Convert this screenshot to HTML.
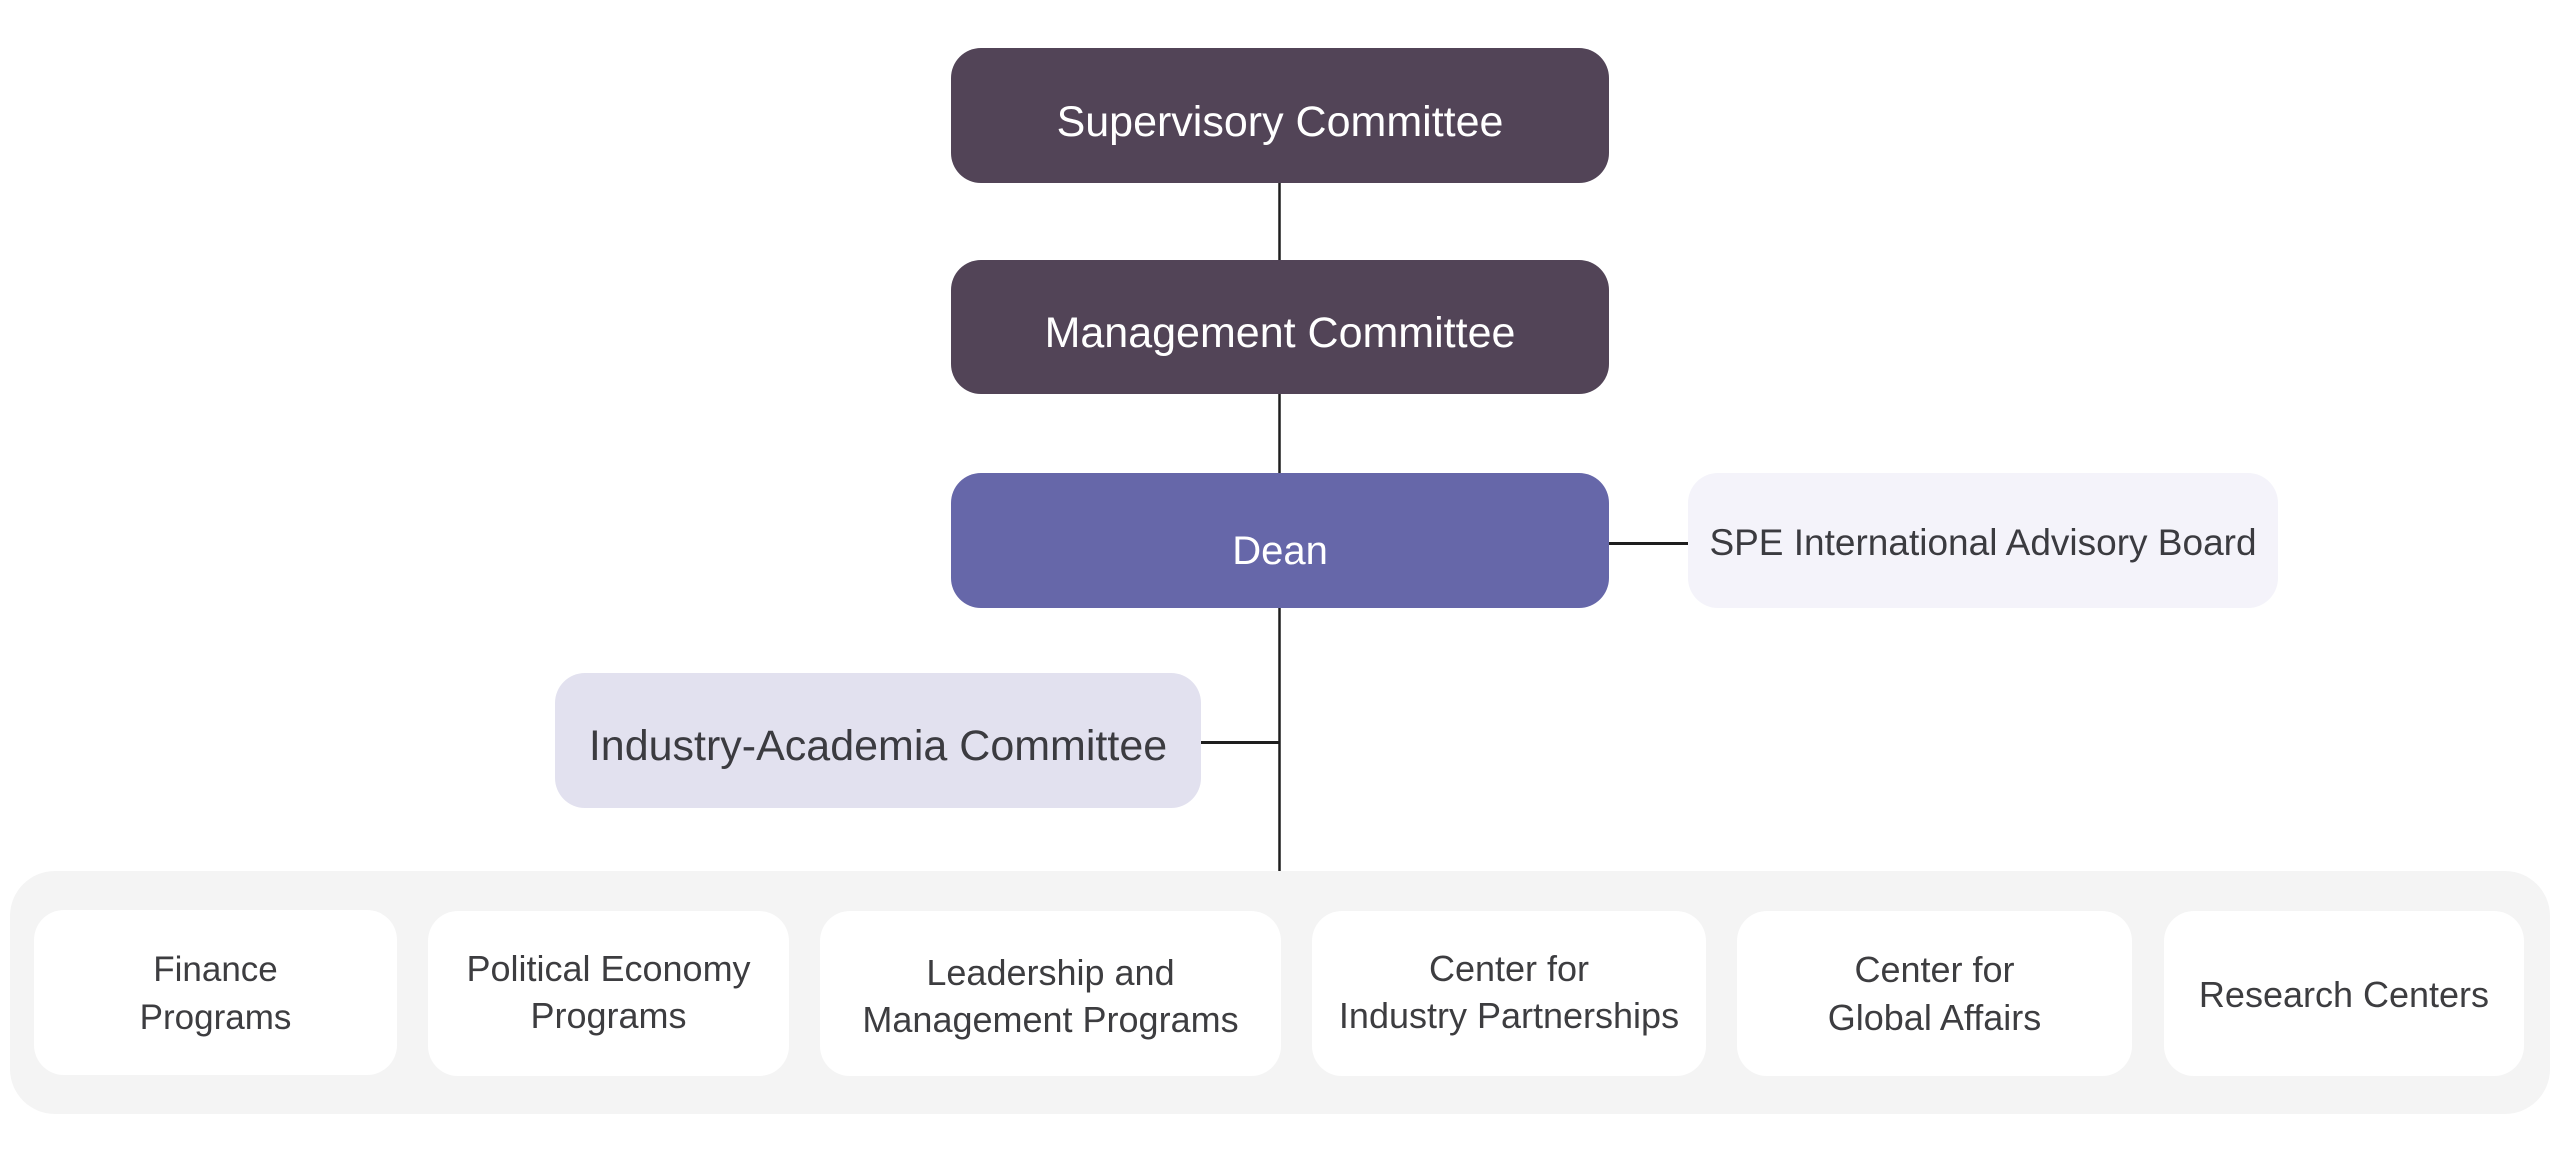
<!DOCTYPE html>
<html>
<head>
<meta charset="utf-8">
<style>
  html, body { margin: 0; padding: 0; background: #ffffff; }
  body { width: 2560px; height: 1173px; overflow: hidden; }
  svg { display: block; }
  text { font-family: "Liberation Sans", "DejaVu Sans", sans-serif; }
</style>
</head>
<body>
<svg width="2560" height="1173" viewBox="0 0 2560 1173" xmlns="http://www.w3.org/2000/svg">
  <rect x="0" y="0" width="2560" height="1173" fill="#ffffff"/>

  <!-- connectors -->
  <line x1="1279.5" y1="183" x2="1279.5" y2="260" stroke="#1e1e1e" stroke-width="2.5"/>
  <line x1="1279.5" y1="394" x2="1279.5" y2="473" stroke="#1e1e1e" stroke-width="2.5"/>
  <line x1="1279.5" y1="608" x2="1279.5" y2="871" stroke="#1e1e1e" stroke-width="2.5"/>
  <line x1="1609" y1="543.5" x2="1688" y2="543.5" stroke="#1e1e1e" stroke-width="3"/>
  <line x1="1201" y1="742.5" x2="1280" y2="742.5" stroke="#1e1e1e" stroke-width="3"/>

  <!-- top boxes -->
  <rect x="951" y="48" width="658" height="135" rx="30" ry="30" fill="#524457"/>
  <text x="1280" y="136" text-anchor="middle" font-size="43" fill="#ffffff">Supervisory Committee</text>

  <rect x="951" y="260" width="658" height="134" rx="30" ry="30" fill="#524457"/>
  <text x="1280" y="347" text-anchor="middle" font-size="43" fill="#ffffff">Management Committee</text>

  <rect x="951" y="473" width="658" height="135" rx="30" ry="30" fill="#6667a9"/>
  <text x="1280" y="564" text-anchor="middle" font-size="40" fill="#ffffff">Dean</text>

  <rect x="1688" y="473" width="590" height="135" rx="30" ry="30" fill="#f4f3fa"/>
  <text x="1983" y="555" text-anchor="middle" font-size="37" fill="#3b3b40">SPE International Advisory Board</text>

  <rect x="555" y="673" width="646" height="135" rx="30" ry="30" fill="#e2e1ef"/>
  <text x="878" y="760" text-anchor="middle" font-size="43" fill="#3b3b40">Industry-Academia Committee</text>

  <!-- bottom container -->
  <rect x="10" y="871" width="2540" height="243" rx="45" ry="45" fill="#f4f4f4"/>

  <rect x="34" y="910" width="363" height="165" rx="30" ry="30" fill="#ffffff"/>
  <text x="215.5" y="981" text-anchor="middle" font-size="35" fill="#3d3d40">Finance</text>
  <text x="215.5" y="1029" text-anchor="middle" font-size="35" fill="#3d3d40">Programs</text>

  <rect x="428" y="911" width="361" height="165" rx="30" ry="30" fill="#ffffff"/>
  <text x="608.5" y="981" text-anchor="middle" font-size="36" fill="#3d3d40">Political Economy</text>
  <text x="608.5" y="1028" text-anchor="middle" font-size="36" fill="#3d3d40">Programs</text>

  <rect x="820" y="911" width="461" height="165" rx="30" ry="30" fill="#ffffff"/>
  <text x="1050.5" y="985" text-anchor="middle" font-size="36" fill="#3d3d40">Leadership and</text>
  <text x="1050.5" y="1032" text-anchor="middle" font-size="36" fill="#3d3d40">Management Programs</text>

  <rect x="1312" y="911" width="394" height="165" rx="30" ry="30" fill="#ffffff"/>
  <text x="1509" y="981" text-anchor="middle" font-size="36" fill="#3d3d40">Center for</text>
  <text x="1509" y="1028" text-anchor="middle" font-size="36" fill="#3d3d40">Industry Partnerships</text>

  <rect x="1737" y="911" width="395" height="165" rx="30" ry="30" fill="#ffffff"/>
  <text x="1934.5" y="982" text-anchor="middle" font-size="36" fill="#3d3d40">Center for</text>
  <text x="1934.5" y="1030" text-anchor="middle" font-size="36" fill="#3d3d40">Global Affairs</text>

  <rect x="2164" y="911" width="360" height="165" rx="30" ry="30" fill="#ffffff"/>
  <text x="2344" y="1007" text-anchor="middle" font-size="36" fill="#3d3d40">Research Centers</text>
</svg>
</body>
</html>
